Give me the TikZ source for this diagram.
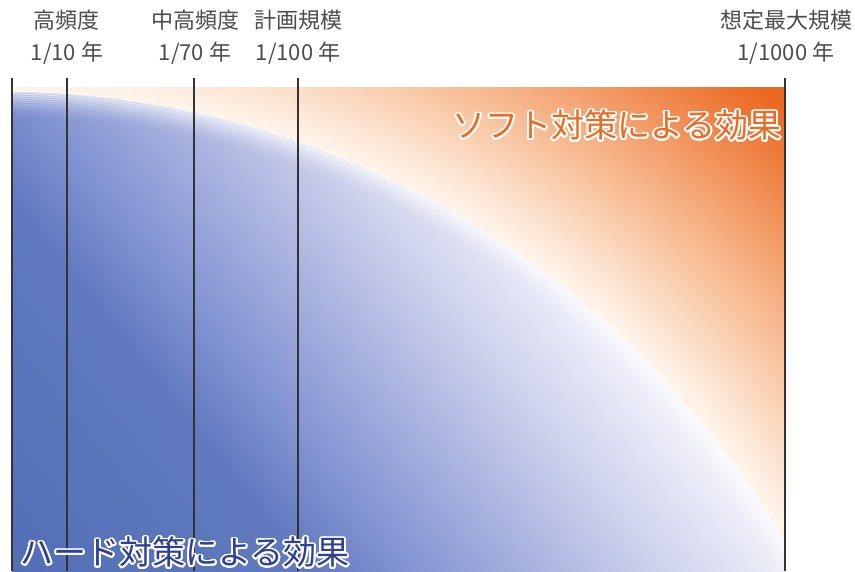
\documentclass[tikz,border=0pt]{standalone}
\usepackage{fontspec}
\setmainfont{Noto Sans CJK JP}
\usepackage{contour}
\contourlength{1.6pt}
\contournumber{32}

\definecolor{hardblue}{RGB}{46,63,150}
\definecolor{softorange}{RGB}{236,106,35}

% orange field: white at the arc, orange towards the far corner (25bp = 1250 units)
\pgfdeclareradialshading{softfield}{\pgfpoint{0bp}{0bp}}{%
  rgb(0bp)=(1,1,1);
  rgb(18bp)=(0.98,0.98,0.996);
  rgb(18.24bp)=(0.996,0.957,0.918);
  rgb(20bp)=(0.976,0.784,0.647);
  rgb(23.62bp)=(0.925,0.416,0.137);
  rgb(25bp)=(0.91,0.376,0.098);
  rgb(50bp)=(0.91,0.376,0.098)}

% blue field: dark at the lower left, pale towards the arc
\pgfdeclarehorizontalshading{hardfield}{100bp}{%
  rgb(0bp)=(0.322,0.431,0.714);
  rgb(33.5bp)=(0.322,0.431,0.714);
  rgb(42.1bp)=(0.380,0.478,0.750);
  rgb(44.9bp)=(0.510,0.580,0.824);
  rgb(48.5bp)=(0.667,0.702,0.878);
  rgb(52.4bp)=(0.824,0.839,0.933);
  rgb(56.4bp)=(0.961,0.961,0.988);
  rgb(100bp)=(0.961,0.961,0.988)}

\tikzstyle{freqlabel} = [align=center, text=black!70, inner sep=0pt, font=\fontsize{22}{32}\selectfont]
\tikzstyle{effectlabel} = [inner sep=0pt, font=\fontsize{33}{36}\selectfont]
\tikzstyle{scaleline} = [line width=1.2pt, draw=black!80]

\begin{document}
\begin{tikzpicture}[x=1pt, y=1pt]

  \useasboundingbox (0,0) rectangle (855,571);

  % Shaded field
  \begin{scope}
    \clip (12,0) rectangle (785,483);
    \shade[shading=softfield] (-1250,-1679) rectangle (1250,821);
    % area under the arc
    \clip (0,-429) circle (908);
    \shade[shading=hardfield, shading angle=38.66] (-300,-460) rectangle (1100,940);
    % soft white rim along the arc
    \foreach \i in {0,...,14} {
      \pgfmathsetmacro\rimop{0.6*(1-\i/15)^2}
      \draw[white, line width=3pt, opacity=\rimop] (0,-429) circle (909-2*\i);
    }
  \end{scope}

  % Return period lines
  \foreach \x in {12,67,194,298,785}
    \draw[scaleline] (\x,0) -- (\x,493);

  % Top labels
  \node (freq10) at (67,534) [freqlabel] {高頻度\\1/10 年};
  \node (freq70) at (195,534) [freqlabel] {中高頻度\\1/70 年};
  \node (plan100) at (298,534) [freqlabel] {計画規模\\1/100 年};
  \node (max1000) at (786,534) [freqlabel] {想定最大規模\\1/1000 年};

  % Effect labels
  \node (soft) at (617,445) [effectlabel, text=softorange] {\contour{white}{ソフト対策による効果}};
  \node (hard) at (185,18) [effectlabel, text=hardblue] {\contour{white}{ハード対策による効果}};

\end{tikzpicture}
\end{document}
